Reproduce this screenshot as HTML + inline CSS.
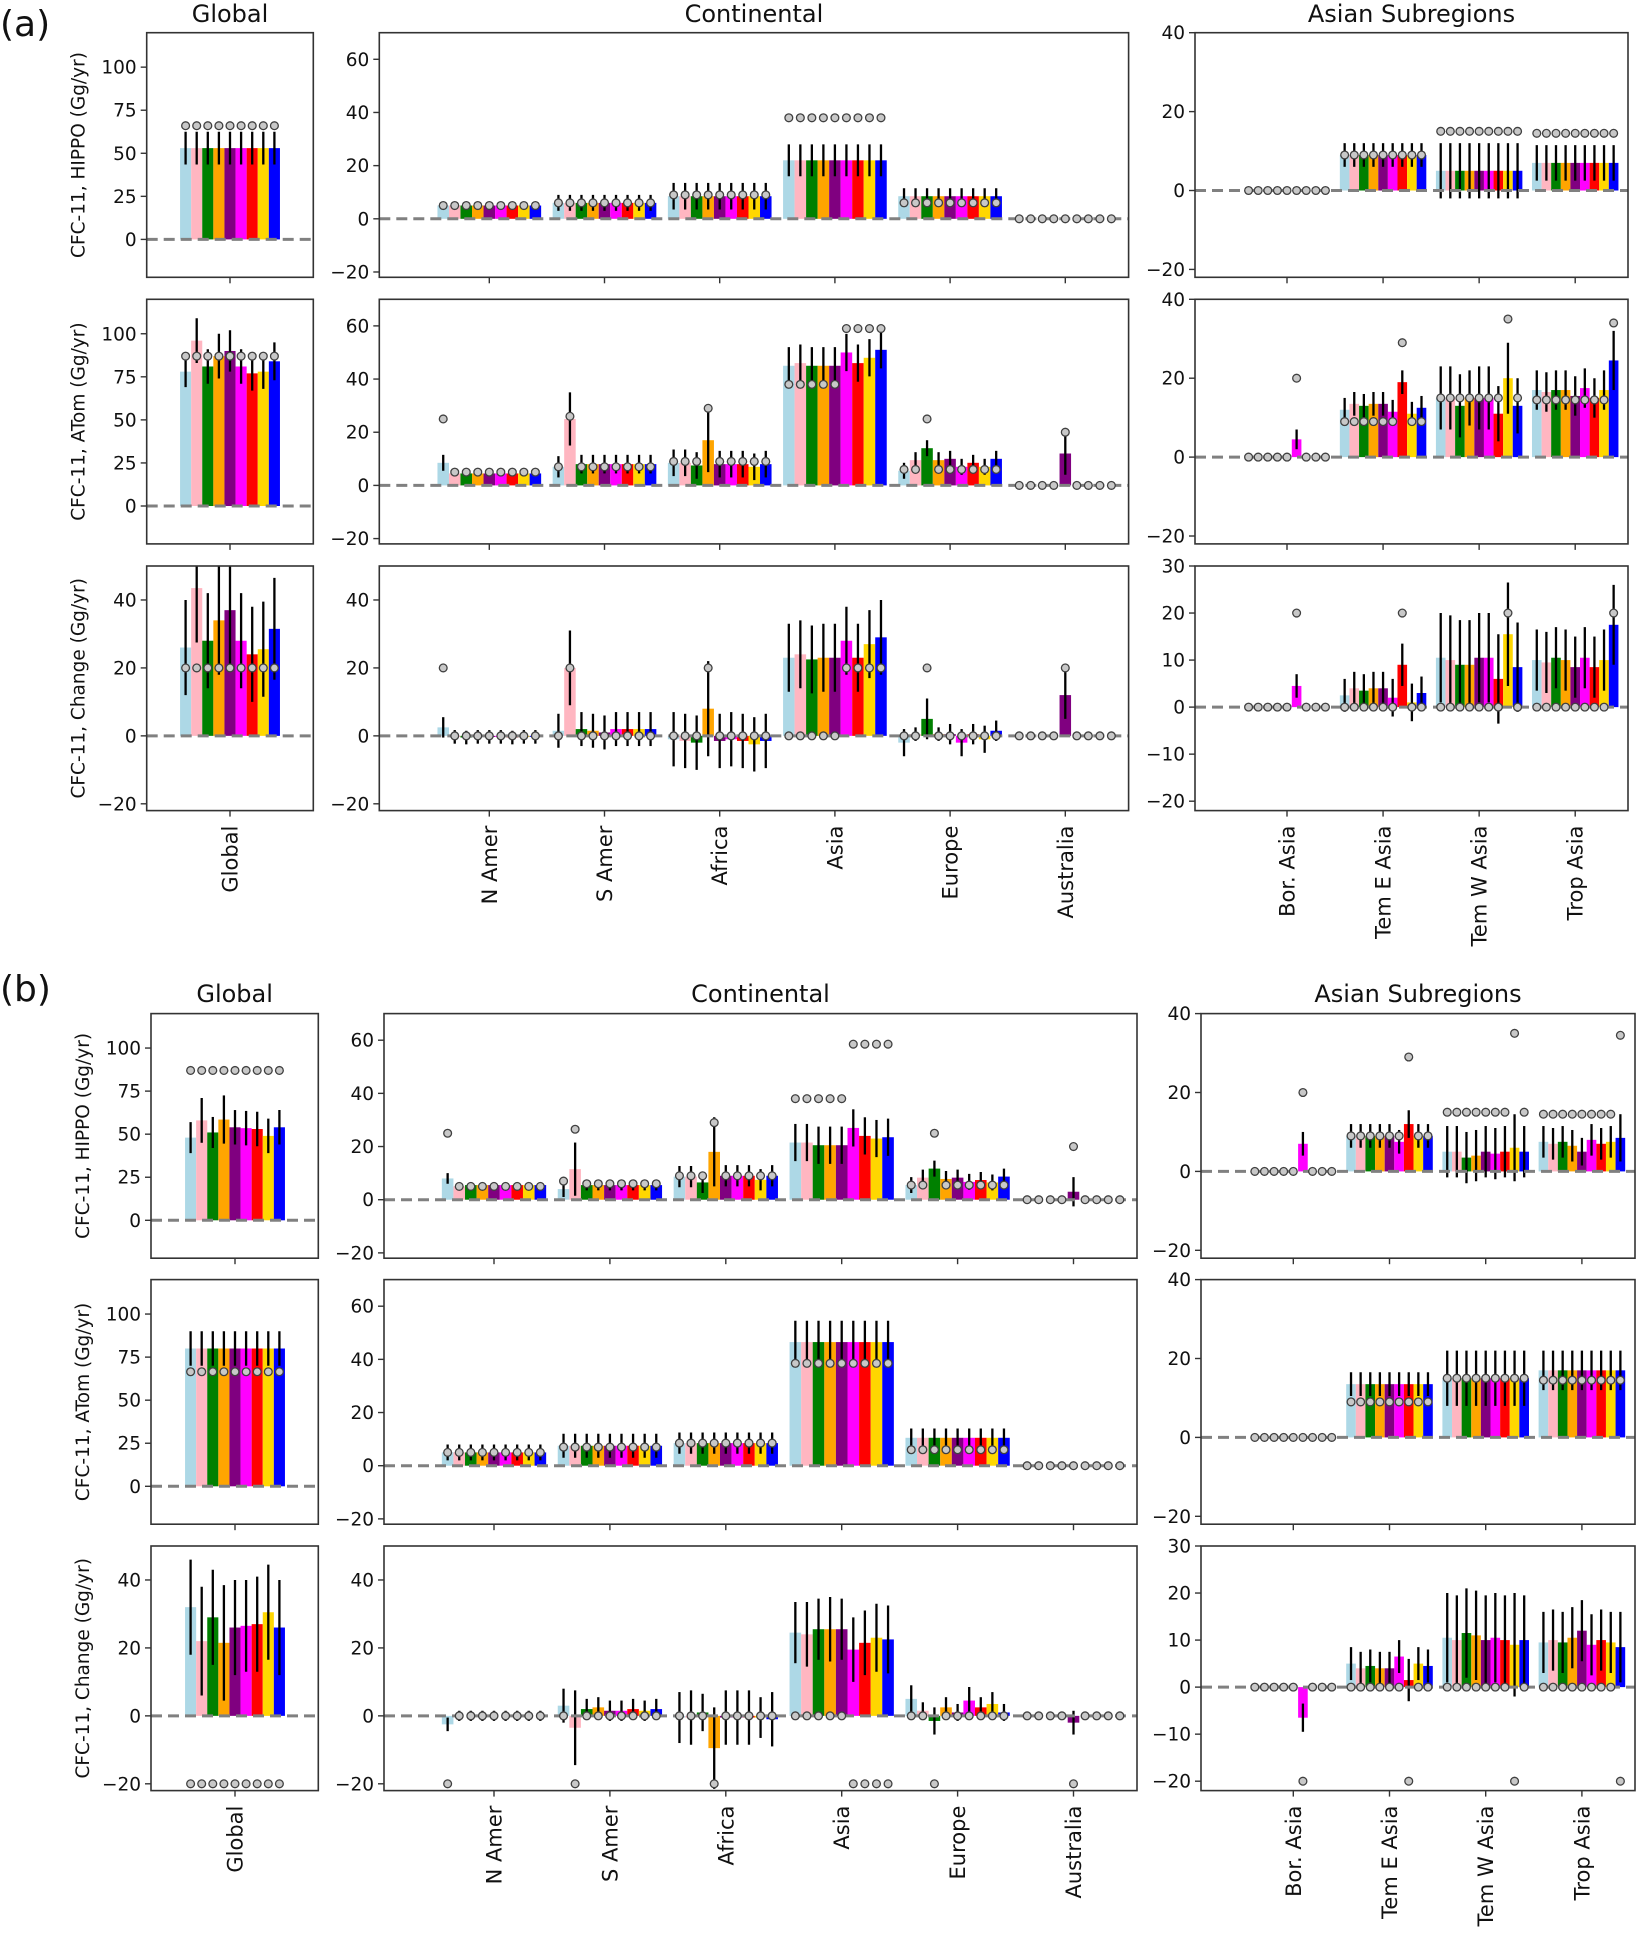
<!DOCTYPE html>
<html><head><meta charset="utf-8"><style>
html,body{margin:0;padding:0;background:#fff;}
svg{display:block;font-family:"DejaVu Sans","Liberation Sans",sans-serif;}
</style></head><body>
<svg id="fig" width="1641" height="1943" viewBox="0 0 1641 1943" xmlns="http://www.w3.org/2000/svg"><defs id="defs"></defs></svg>
<script>
// ---------- DATA ----------
const seriesColors = ["#add8e6","#ffb6c1","#008000","#ffa500","#800080","#ff00ff","#ff0000","#ffd700","#0000ff"];
const globalCats = ["Global"];
const contCats = ["N Amer","S Amer","Africa","Asia","Europe","Australia"];
const asiaCats = ["Bor. Asia","Tem E Asia","Tem W Asia","Trop Asia"];
const rowLabels = ["CFC-11, HIPPO (Gg/yr)","CFC-11, ATom (Gg/yr)","CFC-11, Change (Gg/yr)"];
const globalTicks = [[0,25,50,75,100],[0,25,50,75,100],[-20,0,20,40]];
const contTicks = [[-20,0,20,40,60],[-20,0,20,40,60],[-20,0,20,40]];
const asiaTicks = [[-20,0,20,40],[-20,0,20,40],[-20,-10,0,10,20,30]];

// (a) HIPPO
const aGlobHippoBars=[[53,53,53,53,53,53,53,53,53]];
const aGlobHippoErr=[[9.5,9.5,9.5,9.5,9.5,9.5,9.5,9.5,9.5]];
const aGlobHippoMk=[[66,66,66,66,66,66,66,66,66]];
const aContHippoBars=[[5,5,5,5,5,5,5,5,5],[6,6,6,6,6,6,6,6,6],[8.5,8.5,8.5,8.5,8.5,8.5,8.5,8.5,8.5],[22,22,22,22,22,22,22,22,22],[8.5,8.5,8.5,8.5,8.5,8.5,8.5,8.5,8.5],[0,0,0,0,0,0,0,0,0]];
const aContHippoErr=[[1.5,1.5,1.5,1.5,1.5,1.5,1.5,1.5,1.5],[3,3,3,3,3,3,3,3,3],[5,5,5,5,5,5,5,5,5],[6,6,6,6,6,6,6,6,6],[3,3,3,3,3,3,3,3,3],[0,0,0,0,0,0,0,0,0]];
const aContHippoMk=[[5,5,5,5,5,5,5,5,5],[6,6,6,6,6,6,6,6,6],[9,9,9,9,9,9,9,9,9],[38,38,38,38,38,38,38,38,38],[6,6,6,6,6,6,6,6,6],[0,0,0,0,0,0,0,0,0]];
const aAsiaHippoBars=[[0,0,0,0,0,0,0,0,0],[9,9,9,9,9,9,9,9,9],[5,5,5,5,5,5,5,5,5],[7,7,7,7,7,7,7,7,7]];
const aAsiaHippoErr=[[0,0,0,0,0,0,0,0,0],[3,3,3,3,3,3,3,3,3],[7,7,7,7,7,7,7,7,7],[4.5,4.5,4.5,4.5,4.5,4.5,4.5,4.5,4.5]];
const aAsiaHippoMk=[[0,0,0,0,0,0,0,0,0],[9,9,9,9,9,9,9,9,9],[15,15,15,15,15,15,15,15,15],[14.5,14.5,14.5,14.5,14.5,14.5,14.5,14.5,14.5]];
// (a) ATom
const aGlobAtomBars=[[78,96,81,87,90,81,77,78,84]];
const aGlobAtomErr=[[9,13,10,13,12,10,10,10,11]];
const aGlobAtomMk=[[87,87,87,87,87,87,87,87,87]];
const aContAtomBars=[[8.5,4.5,4.5,4.5,4.5,4.5,4.5,4.5,4.5],[7,25,8,8,8,8,8,8,8],[8.5,8.5,7.5,17,8,8,8,7,8],[45,46,45,45,45,50,46,48,51],[5.5,9.5,14,9.5,10,7,8.5,7,10],[0,0,0,0,12,0,0,0,0]];
const aContAtomErr=[[3,1,1,1,1,1,1,1,1],[4,10,3.5,3.5,3.5,3.5,3.5,3.5,3.5],[5,5,5,12,5,5,5,5,5],[7,7,7,7,7,7,7,7,7],[3,3,3,3,3,3,3,3,3],[0,0,0,0,8,0,0,0,0]];
const aContAtomMk=[[25,5,5,5,5,5,5,5,5],[7,26,7,7,7,7,7,7,7],[9,9,9,29,9,9,9,9,9],[38,38,38,38,38,59,59,59,59],[6,6,25,6,6,6,6,6,6],[0,0,0,0,20,0,0,0,0]];
const aAsiaAtomBars=[[0,0,0,0,0,4.5,0,0,0],[12,13.5,13,13.5,13.5,11.5,19,11,12.5],[15,15,13,15,15,15,11,20,13],[17,16.5,17,17,15.5,17.5,15,17,24.5]];
const aAsiaAtomErr=[[0,0,0,0,0,2.5,0,0,0],[3,3,3,3,3,3,3,3,3],[8,8,8,7,8,8,7,9,7],[5,5,5,5,5,5,5,5,7.5]];
const aAsiaAtomMk=[[0,0,0,0,0,20,0,0,0],[9,9,9,9,9,9,29,9,9],[15,15,15,15,15,15,15,35,15],[14.5,14.5,14.5,14.5,14.5,14.5,14.5,14.5,34]];
// (a) Change
const aGlobChgBars=[[26,43.5,28,34,37,28,24,25.5,31.5]];
const aGlobChgErr=[[14,16,14,16,17,14,14,14,15]];
const aGlobChgMk=[[20,20,20,20,20,20,20,20,20]];
const aContChgBars=[[2.5,-0.3,-0.5,-0.3,-0.3,-0.3,-0.5,-0.3,-0.3],[1.5,20,2,1.5,1,2,2,2,2],[-1,-1.5,-2,8,-1.5,-1,-1.5,-2.5,-1.5],[23,24,22.5,23,23,28,23,27,29],[-2,0.5,5,0.5,0.5,-2,0.5,-1,1.5],[0,0,0,0,12,0,0,0,0]];
const aContChgErr=[[3,2,2,2,2,2,2,2,2],[5,11,5,5,5,5,5,5,5],[8,8,8,14,8,8,8,8,8],[10,10,10,10,10,10,10,10,11],[4,2,6,2,3,4,3,4,3],[0,0,0,0,7,0,0,0,0]];
const aContChgMk=[[20,0,0,0,0,0,0,0,0],[0,20,0,0,0,0,0,0,0],[0,0,0,20,0,0,0,0,0],[0,0,0,0,0,20,20,20,20],[0,0,20,0,0,0,0,0,0],[0,0,0,0,20,0,0,0,0]];
const aAsiaChgBars=[[0,0,0,0,0,4.5,0,0,0],[2.5,4,3.5,4,4,2,9,1,3],[10.5,10,9,9,10.5,10.5,6,15.5,8.5],[10,9.5,10.5,10,8.5,10.5,8.5,10,17.5]];
const aAsiaChgErr=[[0,0,0,0,0,2.5,0,0,0],[3.5,3.5,3.5,3.5,3.5,4,4.5,4,3.5],[9.5,9.5,9.5,9.5,9.5,9.5,9.5,11,9.5],[6.5,6.5,6.5,6.5,6.5,6.5,6.5,6.5,8.5]];
const aAsiaChgMk=[[0,0,0,0,0,20,0,0,0],[0,0,0,0,0,0,20,0,0],[0,0,0,0,0,0,0,20,0],[0,0,0,0,0,0,0,0,20]];

// (b) HIPPO
const bGlobHippoBars=[[48,58,51,58.5,54,53.5,53,49,54]];
const bGlobHippoErr=[[9,13,9,14,10,10,10,10,10]];
const bGlobHippoMk=[[87,87,87,87,87,87,87,87,87]];
const bContHippoBars=[[8,5,5.5,5.5,5.5,5.5,5.5,5.5,5.5],[4,11.5,5.5,5.5,5.5,5.5,5.5,5.5,5.5],[8.7,8.7,6.5,18,9,9,9,7.5,9],[21.5,21.5,20.5,20.5,20.5,27,24,23,23.5],[5.5,8.3,11.7,7.8,8.3,6.7,7.4,6.5,8.7],[0,0,0,0,3,0,0,0,0]];
const bContHippoErr=[[2,1,1,1,1,1,1,1,1],[3,10,2,2,2,2,2,2,2],[4,4,4,13,4,4,4,4,4],[7,7,7,7,7,7,7,7,7],[3,3,3,3,3,3,3,3,3],[0,0,0,0,5.5,0,0,0,0]];
const bContHippoMk=[[25,5,5,5,5,5,5,5,5],[7,26.5,6,6,6,6,6,6,6],[9,9,9,29,9,9,9,9,9],[38,38,38,38,38,58.5,58.5,58.5,58.5],[5.5,5.5,25,5.5,5.5,5.5,5.5,5.5,5.5],[0,0,0,0,20,0,0,0,0]];
const bAsiaHippoBars=[[0,0,0,0,0,7,0,0,0],[9,9,9,9,9,7.5,12,9,9],[5,5,3.5,4,5,4.5,5,6,5],[7.5,7,7.5,6.5,5,8,7,7.5,8.5]];
const bAsiaHippoErr=[[0,0,0,0,0,3,0,0,0],[3,3,3,3,3,3,3.5,3,3],[6.5,6.5,6.5,6.5,6.5,6.5,6.5,8.5,6.5],[4,4,4,4,3.5,4,4,4,6]];
const bAsiaHippoMk=[[0,0,0,0,0,20,0,0,0],[9,9,9,9,9,9,29,9,9],[15,15,15,15,15,15,15,35,15],[14.5,14.5,14.5,14.5,14.5,14.5,14.5,14.5,34.5]];
// (b) ATom
const bGlobAtomBars=[[80,80,80,80,80,80,80,80,80]];
const bGlobAtomErr=[[10,10,10,10,10,10,10,10,10]];
const bGlobAtomMk=[[66.5,66.5,66.5,66.5,66.5,66.5,66.5,66.5,66.5]];
const bContAtomBars=[[5,5,5,5,5,5,5,5,5],[7.5,7.5,7.5,7.5,7.5,7.5,7.5,7.5,7.5],[8.5,8.5,8.5,8.5,8.5,8.5,8.5,8.5,8.5],[46.5,46.5,46.5,46.5,46.5,46.5,46.5,46.5,46.5],[10.5,10.5,10.5,10.5,10.5,10.5,10.5,10.5,10.5],[0,0,0,0,0,0,0,0,0]];
const bContAtomErr=[[3,3,3,3,3,3,3,3,3],[4.5,4.5,4.5,4.5,4.5,4.5,4.5,4.5,4.5],[4,4,4,4,4,4,4,4,4],[8,8,8,8,8,8,8,8,8],[3.5,3.5,3.5,3.5,3.5,3.5,3.5,3.5,3.5],[0,0,0,0,0,0,0,0,0]];
const bContAtomMk=[[5,5,5,5,5,5,5,5,5],[7,7,7,7,7,7,7,7,7],[8.5,8.5,8.5,8.5,8.5,8.5,8.5,8.5,8.5],[38.5,38.5,38.5,38.5,38.5,38.5,38.5,38.5,38.5],[6,6,6,6,6,6,6,6,6],[0,0,0,0,0,0,0,0,0]];
const bAsiaAtomBars=[[0,0,0,0,0,0,0,0,0],[13.5,13.5,13.5,13.5,13.5,13.5,13.5,13.5,13.5],[15,15,15,15,15,15,15,15,15],[17,17,17,17,17,17,17,17,17]];
const bAsiaAtomErr=[[0,0,0,0,0,0,0,0,0],[3,3,3,3,3,3,3,3,3],[7,7,7,7,7,7,7,7,7],[5,5,5,5,5,5,5,5,5]];
const bAsiaAtomMk=[[0,0,0,0,0,0,0,0,0],[9,9,9,9,9,9,9,9,9],[15,15,15,15,15,15,15,15,15],[14.5,14.5,14.5,14.5,14.5,14.5,14.5,14.5,14.5]];
// (b) Change
const bGlobChgBars=[[32,22,29,21.5,26,26.5,27,30.5,26]];
const bGlobChgErr=[[14,16,14,17,14,13.5,14,14,14]];
const bGlobChgMk=[[-20,-20,-20,-20,-20,-20,-20,-20,-20]];
const bContChgBars=[[-2.5,0,0,0,0,0,0,0,0],[3,-3.5,2,2.5,1.5,1.5,2,1.5,2],[-0.5,-0.5,1,-9.5,-0.5,-0.5,-0.5,-0.5,-1],[24.5,24,25.5,25.5,25.5,19.5,21.5,23,22.5],[5,1.5,-1.5,2.5,1,4.5,2.5,3.5,1],[0,0,0,0,-2,0,0,0,0]];
const bContChgErr=[[2,1.5,1.5,1.5,1.5,1.5,1.5,1.5,1.5],[5,11,3,3,3,3,3,3,3],[7.5,8,5.5,12,8,8,8,6,8],[9,9.5,9,9.5,9,9.5,9.5,10,10],[4,2.5,4,3,2.5,4,3,3.5,2.5],[0,0,0,0,3.5,0,0,0,0]];
const bContChgMk=[[-20,0,0,0,0,0,0,0,0],[0,-20,0,0,0,0,0,0,0],[0,0,0,-20,0,0,0,0,0],[0,0,0,0,0,-20,-20,-20,-20],[0,0,-20,0,0,0,0,0,0],[0,0,0,0,-20,0,0,0,0]];
const bAsiaChgBars=[[0,0,0,0,0,-6.5,0,0,0],[5,4,4.5,4,4,6.5,1.5,5,4.5],[10.5,10,11.5,11,10,10.5,10,9,10],[9.5,10,9.5,10.5,12,9,10,9.5,8.5]];
const bAsiaChgErr=[[0,0,0,0,0,3,0,0,0],[3.5,3.5,3.5,3.5,3.5,3.5,4.5,3.5,3.5],[9.5,9.5,9.5,9.5,9.5,9.5,9.5,11,9.5],[6.5,6.5,6.5,6.5,6.5,6.5,6.5,6.5,7.5]];
const bAsiaChgMk=[[0,0,0,0,0,-20,0,0,0],[0,0,0,0,0,0,-20,0,0],[0,0,0,0,0,0,0,-20,0],[0,0,0,0,0,0,0,0,-20]];

// ---------- RENDER ----------
const NS="http://www.w3.org/2000/svg";
const svg=document.getElementById('fig');
const defs=document.getElementById('defs');
function mk(tag,attrs,parent){const e=document.createElementNS(NS,tag);for(const k in attrs)e.setAttribute(k,attrs[k]);(parent||svg).appendChild(e);return e;}
function txt(s,attrs,parent){const e=mk('text',attrs,parent);e.textContent=s;return e;}

const figs=[
 {tag:'a',label:'(a)',labelY:36,titleY:22,rows:[32.7,299.3,566],
  glob:{l:146.7,r:313.3,t0:230,u:111}, cont:{l:379.3,r:1128.6,t0:489.3,u:115.2}, asia:{l:1195,r:1628,t0:1287,u:96.07},
  data:[[aGlobHippoBars,aGlobHippoErr,aGlobHippoMk,aContHippoBars,aContHippoErr,aContHippoMk,aAsiaHippoBars,aAsiaHippoErr,aAsiaHippoMk],
        [aGlobAtomBars,aGlobAtomErr,aGlobAtomMk,aContAtomBars,aContAtomErr,aContAtomMk,aAsiaAtomBars,aAsiaAtomErr,aAsiaAtomMk],
        [aGlobChgBars,aGlobChgErr,aGlobChgMk,aContChgBars,aContChgErr,aContChgMk,aAsiaChgBars,aAsiaChgErr,aAsiaChgMk]]},
 {tag:'b',label:'(b)',labelY:1001,titleY:1002,rows:[1013.6,1279.6,1546],
  glob:{l:151,r:318.3,t0:235,u:111}, cont:{l:384,r:1137,t0:494,u:115.9}, asia:{l:1201,r:1635,t0:1293.3,u:96.2},
  data:[[bGlobHippoBars,bGlobHippoErr,bGlobHippoMk,bContHippoBars,bContHippoErr,bContHippoMk,bAsiaHippoBars,bAsiaHippoErr,bAsiaHippoMk],
        [bGlobAtomBars,bGlobAtomErr,bGlobAtomMk,bContAtomBars,bContAtomErr,bContAtomMk,bAsiaAtomBars,bAsiaAtomErr,bAsiaAtomMk],
        [bGlobChgBars,bGlobChgErr,bGlobChgMk,bContChgBars,bContChgErr,bContChgMk,bAsiaChgBars,bAsiaChgErr,bAsiaChgMk]]}
];
const H=244.6;
const ylims={glob:[[-22,120],[-22,120],[-22,50]],cont:[[-22,70],[-22,70],[-22,50]],asia:[[-22,40],[-22,40],[-22,30]]};
const tickSets={glob:globalTicks,cont:contTicks,asia:asiaTicks};
const catSets={glob:globalCats,cont:contCats,asia:asiaCats};
const titles={glob:'Global',cont:'Continental',asia:'Asian Subregions'};

function drawPanel(fig,kind,row,bars,errs,mks){
  const ax=fig[kind], top=fig.rows[row], bot=top+H;
  const [y0,y1]=ylims[kind][row];
  const ys=v=>bot-(v-y0)/(y1-y0)*H;
  const cid=`clip-${fig.tag}-${kind}-${row}`;
  const cp=mk('clipPath',{id:cid},defs);
  mk('rect',{x:ax.l,y:top,width:ax.r-ax.l,height:H},cp);
  const g=mk('g',{});
  
  
  const pg=mk('g',{'clip-path':`url(#${cid})`},g);
  
  
  const cats=catSets[kind];
  const xc=(c,i)=>ax.t0+c*ax.u+(i-4)*0.1*ax.u;
  const bw=0.1*ax.u;
  cats.forEach((cat,c)=>{
    bars[c].forEach((v,i)=>{
      const y=ys(Math.max(v,0)), h=Math.abs(ys(v)-ys(0));
      const r=mk('rect',{x:(xc(c,i)-bw/2).toFixed(2),y:y.toFixed(2),width:bw.toFixed(2),height:Math.max(h,0).toFixed(2),fill:seriesColors[i]},pg);
      
      
    });
  });
  cats.forEach((cat,c)=>{
    bars[c].forEach((v,i)=>{
      const e=errs[c][i]; if(!e) return;
      const l=mk('line',{x1:xc(c,i),x2:xc(c,i),y1:ys(v-e),y2:ys(v+e),stroke:'#000','stroke-width':2.3},pg);
      
      
    });
  });
  const z=mk('line',{x1:ax.l,x2:ax.r,y1:ys(0),y2:ys(0),stroke:'#808080','stroke-width':3,'stroke-dasharray':'11,6'},pg);
  
  
  cats.forEach((cat,c)=>{
    mks[c].forEach((v,i)=>{
      const m=mk('circle',{cx:xc(c,i),cy:ys(v),r:3.9,fill:'#c8c8c8',stroke:'#404040','stroke-width':1.3},pg);
      
      
    });
  });
  const f=mk('rect',{x:ax.l,y:top,width:ax.r-ax.l,height:H,fill:'none',stroke:'#333','stroke-width':1.6},g);
  
  
  tickSets[kind][row].forEach(t=>{
    const y=ys(t);
    mk('line',{x1:ax.l-6,x2:ax.l,y1:y,y2:y,stroke:'#333','stroke-width':1.4},g);
    const tl=txt(String(t).replace('-','\u2212'),{x:ax.l-10,y:y+6.5,'text-anchor':'end','font-size':18.5,fill:'#111'},g);
    
    
  });
  cats.forEach((cat,c)=>{
    const x=ax.t0+c*ax.u;
    mk('line',{x1:x,x2:x,y1:bot,y2:bot+6,stroke:'#333','stroke-width':1.4},g);
    if(row===2){
      const xl=txt(cat,{x:0,y:0,'text-anchor':'end','font-size':21,fill:'#111',transform:`translate(${x+7.5},${bot+15}) rotate(-90)`},g);
      
      
    }
  });
  if(row===0){
    const tt=txt(titles[kind],{x:(ax.l+ax.r)/2,y:fig.titleY,'text-anchor':'middle','font-size':24,fill:'#111'},g);
    
    
  }
  if(kind==='glob'){
    const yl=txt(rowLabels[row],{x:0,y:0,'text-anchor':'middle','font-size':18.5,fill:'#111',transform:`translate(${ax.l-62},${top+H/2}) rotate(-90)`},g);
    
    
  }
}

figs.forEach(fig=>{
  const lb=txt(fig.label,{x:0,y:fig.labelY,'font-size':36,fill:'#111'});
  
  
  fig.data.forEach((d,row)=>{
    drawPanel(fig,'glob',row,d[0],d[1],d[2]);
    drawPanel(fig,'cont',row,d[3],d[4],d[5]);
    drawPanel(fig,'asia',row,d[6],d[7],d[8]);
  });
});
</script>
</body></html>
